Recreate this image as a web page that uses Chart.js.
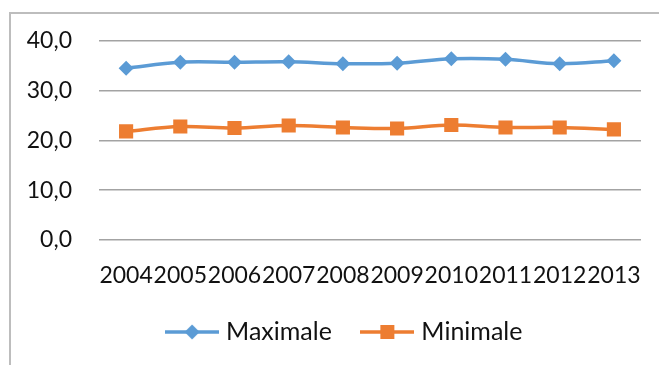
<!DOCTYPE html>
<html>
<head>
<meta charset="utf-8">
<script src="https://cdn.jsdelivr.net/npm/chart.js@4/dist/chart.umd.min.js"></script>
<style>
  html, body { margin: 0; padding: 0; background: #fff; }
  #wrap { position: relative; width: 659px; height: 365px; }
</style>
</head>
<body>
<div id="wrap"><canvas id="c" width="659" height="365"></canvas></div>
<script>
// Années
const years = ['2004', '2005', '2006', '2007', '2008', '2009', '2010', '2011', '2012', '2013'];
// Températures maximales et minimales
const maximale = [34.5, 35.7, 35.7, 35.8, 35.4, 35.5, 36.4, 36.3, 35.4, 36.0];
const minimale = [21.8, 22.8, 22.5, 23.0, 22.6, 22.4, 23.1, 22.6, 22.6, 22.2];
// Graduations de l'axe vertical
const yTicks = [0, 10, 20, 30, 40];
const yTickLabels = ['0,0', '10,0', '20,0', '30,0', '40,0'];

const BLUE = '#5B9BD5';
const ORANGE = '#ED7D31';
const FONT = 'Lato, "Open Sans", sans-serif';

// Legend symbol: a short line with the series marker in its middle
function legendSymbol(color, shape) {
  const cv = document.createElement('canvas');
  cv.width = 54; cv.height = 18;
  const g = cv.getContext('2d');
  g.strokeStyle = color; g.fillStyle = color;
  g.lineWidth = 3.5;
  g.beginPath(); g.moveTo(0, 9); g.lineTo(54, 9); g.stroke();
  g.beginPath();
  if (shape === 'diamond') {
    g.moveTo(27, 1.5); g.lineTo(34.5, 9); g.lineTo(27, 16.5); g.lineTo(19.5, 9);
  } else {
    g.rect(20, 2, 14, 14);
  }
  g.closePath(); g.fill();
  return cv;
}
const symbols = [legendSymbol(BLUE, 'diamond'), legendSymbol(ORANGE, 'square')];

// Chart frame (left and top edges)
const framePlugin = {
  id: 'frame',
  beforeDraw(chart) {
    const ctx = chart.ctx;
    ctx.save();
    ctx.strokeStyle = '#bdbdbd';
    ctx.lineWidth = 2;
    ctx.beginPath();
    ctx.moveTo(10, chart.height);
    ctx.lineTo(10, 13);
    ctx.lineTo(chart.width, 13);
    ctx.stroke();
    ctx.restore();
  }
};

// Nudge the legend block to the right of the centred position
const legendShift = {
  id: 'legendShift',
  afterLayout(chart) {
    if (chart.legend) {
      chart.legend.left += 21;
      chart.legend.right += 21;
    }
  }
};

new Chart(document.getElementById('c'), {
  type: 'line',
  data: {
    labels: years,
    datasets: [
      {
        label: 'Maximale', data: maximale,
        borderColor: BLUE, backgroundColor: BLUE, borderWidth: 3.5,
        pointStyle: 'rectRot', pointRadius: 7.5, pointBorderWidth: 0,
        tension: 0.35
      },
      {
        label: 'Minimale', data: minimale,
        borderColor: ORANGE, backgroundColor: ORANGE, borderWidth: 3.5,
        pointStyle: 'rect', pointRadius: 10, pointBorderWidth: 0,
        tension: 0.35
      }
    ]
  },
  options: {
    responsive: false,
    animation: false,
    layout: { padding: { left: 10, right: 18, top: 32, bottom: 10.5 } },
    plugins: {
      tooltip: { enabled: false },
      legend: {
        position: 'bottom',
        labels: {
          usePointStyle: true,
          pointStyleWidth: 43,
          padding: 34,
          color: '#111',
          font: { family: FONT, size: 25 },
          generateLabels(chart) {
            return chart.data.datasets.map((ds, i) => ({
              text: ds.label,
              pointStyle: symbols[i],
              fillStyle: ds.borderColor,
              strokeStyle: ds.borderColor,
              lineWidth: 0,
              fontColor: '#111',
              datasetIndex: i
            }));
          }
        }
      }
    },
    scales: {
      x: {
        offset: true,
        grid: { display: false },
        border: { display: false },
        ticks: {
          autoSkip: false, maxRotation: 0, minRotation: 0,
          padding: 14, color: '#111',
          font: { family: FONT, size: 23 }
        },
        afterFit(scale) { scale.height = 45.5; }
      },
      y: {
        min: 0, max: 40,
        afterBuildTicks(scale) { scale.ticks = yTicks.map(v => ({ value: v })); },
        grid: { color: '#a3a3a3', lineWidth: 1.5, drawTicks: false },
        border: { display: false },
        ticks: {
          padding: 27, color: '#111',
          font: { family: FONT, size: 23 },
          callback(value) { return yTickLabels[yTicks.indexOf(value)]; }
        },
        afterFit(scale) { scale.width = 89; }
      }
    }
  },
  plugins: [framePlugin, legendShift]
});
</script>
</body>
</html>
